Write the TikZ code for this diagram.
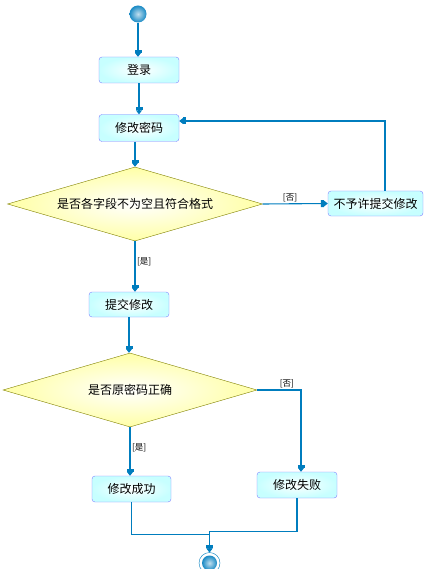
\documentclass[tikz,border=0pt]{standalone}
\usepackage{fontspec}
\newfontfamily\cjk{Noto Sans CJK SC}
\usetikzlibrary{arrows.meta, positioning, shapes.geometric, calc}
\definecolor{flowblue}{RGB}{0,125,190}
\definecolor{actedge}{RGB}{128,128,255}
\definecolor{decedge}{RGB}{128,128,0}
\tikzset{
  act/.style ={rectangle, draw=actedge, inner color=white, outer color=cyan!22,
               rounded corners=3pt, minimum width=80pt, minimum height=26pt,
               align=center, font=\cjk\fontsize{12}{14}\selectfont},
  dec/.style ={diamond, aspect=3.45, draw=decedge, inner color=white, outer color=yellow!35,
               minimum width=255pt, minimum height=74pt, inner sep=0pt,
               align=center, font=\cjk\fontsize{12}{14}\selectfont},
  startdot/.style={circle, minimum size=17pt, inner sep=0pt,
               inner color=flowblue!25, outer color=flowblue!90},
  endring/.style ={circle, draw=flowblue, fill=white, minimum size=21pt, inner sep=0pt},
  enddot/.style  ={circle, minimum size=15pt, inner sep=0pt,
               inner color=flowblue!25, outer color=flowblue!90},
  cond/.style={font=\cjk\fontsize{8.5}{10}\selectfont, inner sep=1.5pt},
  flow/.style={draw=flowblue, line width=1.1pt,
               -{Rectangle[length=3pt,width=7pt]Triangle[length=4pt,width=6pt]}}
}
\begin{document}
\begin{tikzpicture}[x=1pt, y=-1pt]
    \useasboundingbox (0,0) rectangle (428,569);
    \node[startdot] (start) at (138,14) {};
    \node[act] (login) at (139,70) {登录};
    \node[act, minimum height=27pt] (modify) at (139,128) {修改密码};
    \node[dec] (check) at (135,204) {是否各字段不为空且符合格式};
    \node[act, minimum width=95pt, minimum height=25pt] (deny) at (375.5,203.5) {不予许提交修改};
    \node[act, minimum height=25pt] (submit) at (129,304.5) {提交修改};
    \node[dec, minimum width=254pt] (verify) at (130,390) {是否原密码正确};
    \node[act, minimum width=79pt] (ok) at (131.5,489) {修改成功};
    \node[act] (fail) at (297,485) {修改失败};
    \node[endring] (end) at (209.5,563) {};
    \node[enddot] (endcore) at (end) {};
    \draw[flow] (start) -- (start |- login.north);
    \draw[flow] (login) -- (modify);
    \draw[flow] (check.north |- modify.south) -- (check.north);
    \draw[flow] (check.east) -- node[cond, above, pos=0.42] {[否]} (deny.west);
    \draw[flow] ([xshift=9.5pt]deny.north) |- ([yshift=7pt]modify.east);
    \draw[flow] (check.south) -- node[cond, right, pos=0.41] {[是]} (check.south |- submit.north);
    \draw[flow] (submit.south) -- (submit.south |- verify.north);
    \draw[flow] (verify.east) -| node[cond, above, pos=0.34] {[否]} ([xshift=4pt]fail.north);
    \draw[flow] (verify.south) -- node[cond, right, pos=0.43] {[是]} (verify.south |- ok.north);
    \draw[flow] (ok.south) -- ++(0,32) -| (end.north);
    \draw[flow] (fail.south) -- ++(0,33) -| (end.north);
\end{tikzpicture}
\end{document}
